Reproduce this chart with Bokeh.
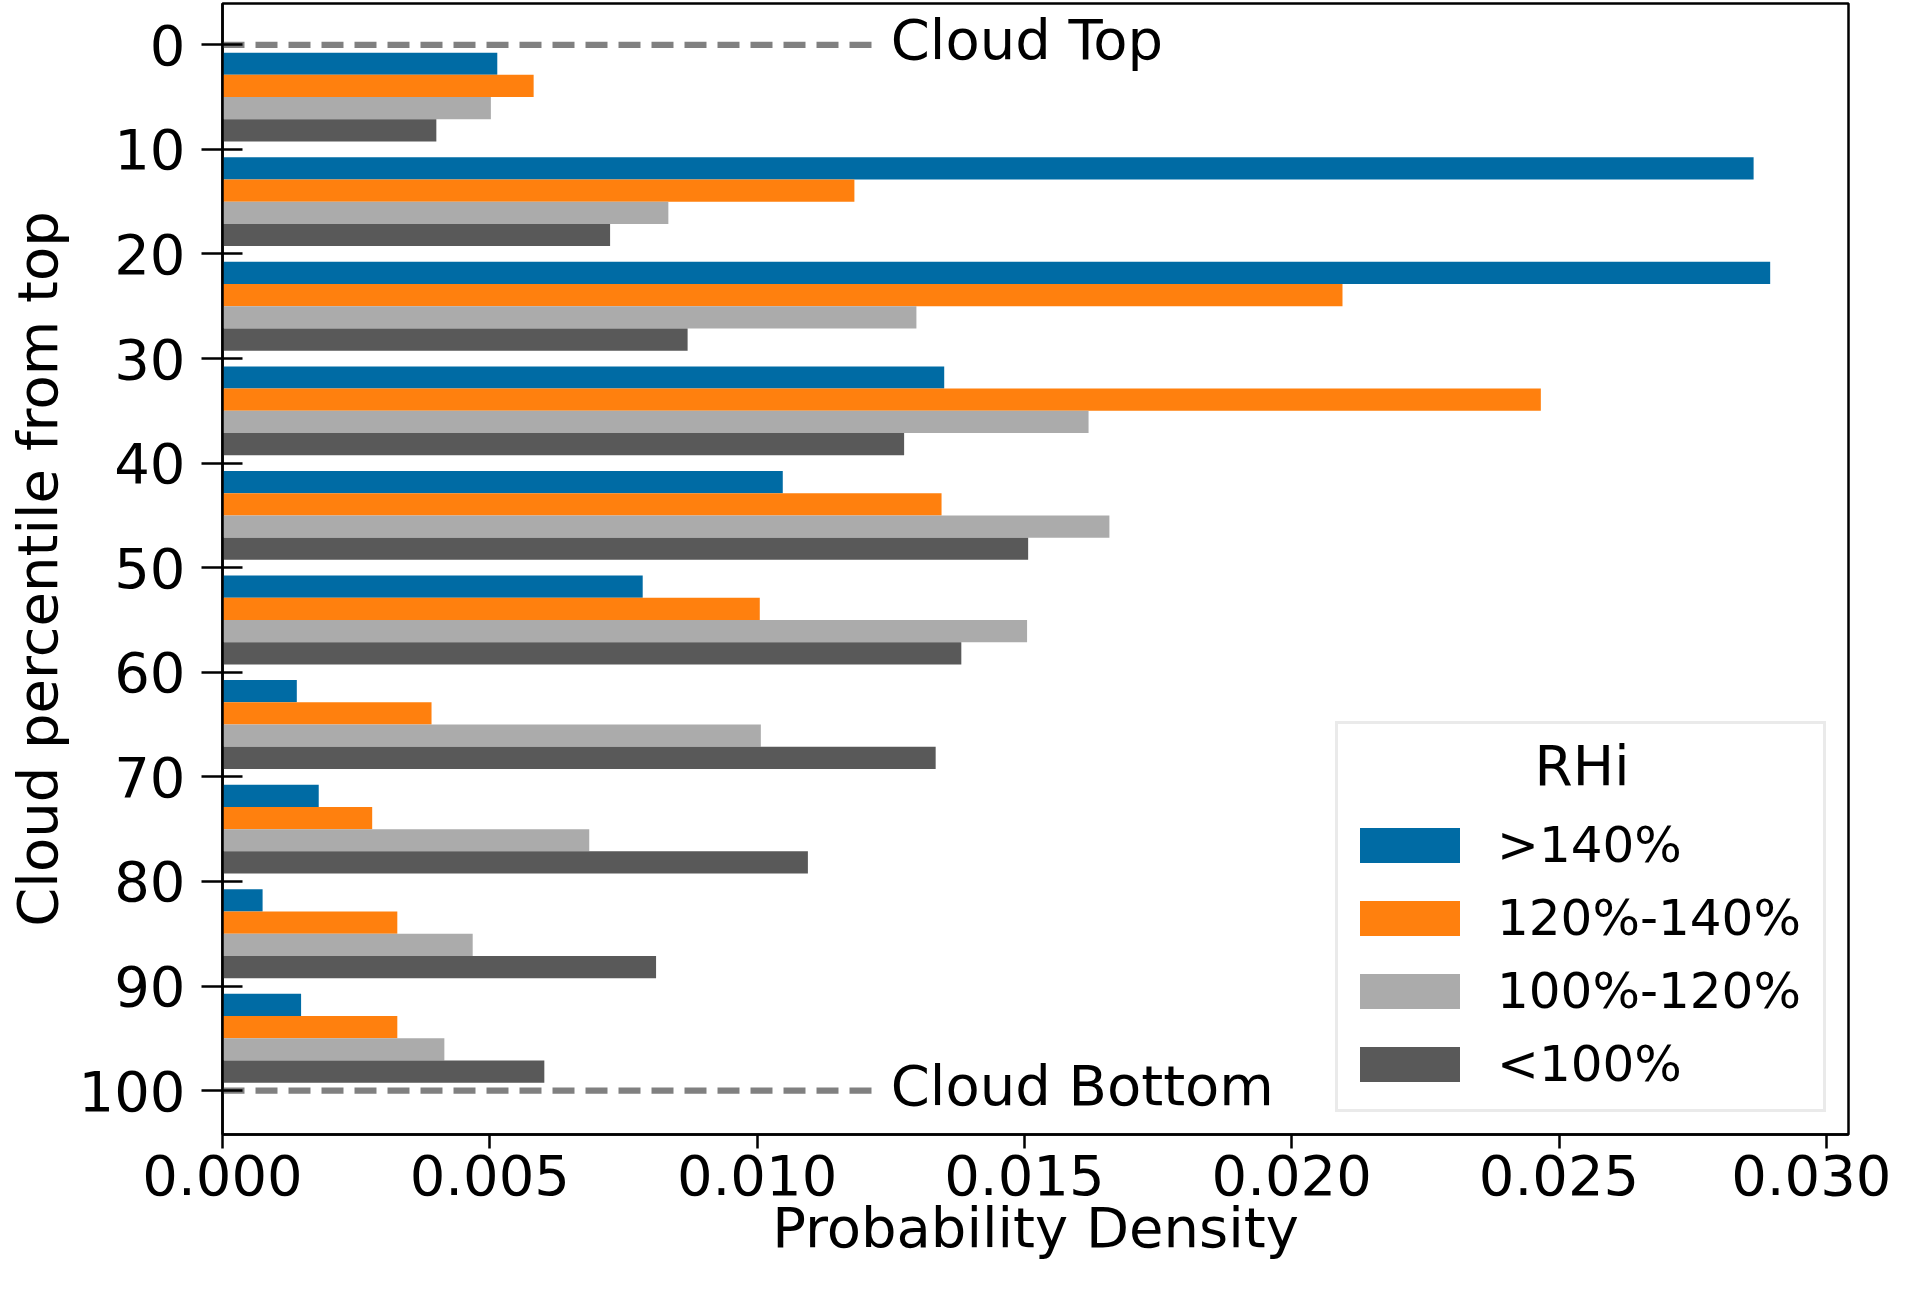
import numpy as np
from bokeh.plotting import figure
from bokeh.models import Range1d, FixedTicker, PrintfTickFormatter, Legend, LegendItem
from bokeh.core.properties import value
from bokeh.embed import file_html
from bokeh.resources import INLINE

# ---- data ----
bin_start = [0, 10, 20, 30, 40, 50, 60, 70, 80, 90]
series_names = [">140%", "120%-140%", "100%-120%", "<100%"]
gt140 = [0.00514, 0.02864, 0.02895, 0.01350, 0.01048, 0.00786, 0.00139, 0.00180, 0.00075, 0.00147]
r120_140 = [0.00582, 0.01182, 0.02095, 0.02466, 0.01345, 0.01005, 0.00391, 0.00280, 0.00327, 0.00327]
r100_120 = [0.00502, 0.00834, 0.01298, 0.01620, 0.01659, 0.01505, 0.01007, 0.00686, 0.00468, 0.00415]
lt100 = [0.00400, 0.00725, 0.00870, 0.01275, 0.01507, 0.01382, 0.01334, 0.01095, 0.00811, 0.00602]
colors = ["#006BA4", "#FF800E", "#ABABAB", "#595959"]
y_ticks = [0, 10, 20, 30, 40, 50, 60, 70, 80, 90, 100]
x_ticks = [0.0, 0.005, 0.010, 0.015, 0.020, 0.025, 0.030]
marker_levels = [0, 100]
marker_texts = ["Cloud Top", "Cloud Bottom"]
marker_line_end = 0.0122
marker_text_x = 0.0125
x_label = "Probability Density"
y_label = "Cloud percentile from top"
legend_title = "RHi"

FONT = "DejaVu Sans"

X0, X1 = 0.0, 0.030415
Y_BOTTOM, Y_TOP = 104.2, -3.95
W, H = 1891, 1278
ML, MR, MT, MB = 222, 43, 3, 144
frame_w = W - ML - MR
frame_h = H - MT - MB
px_x = frame_w / (X1 - X0)          # px per data unit (x)
px_y = frame_h / (Y_BOTTOM - Y_TOP)  # px per data unit (y)

p = figure(width=W, height=H,
           x_range=Range1d(X0, X1), y_range=Range1d(Y_BOTTOM, Y_TOP),
           output_backend="svg", toolbar_location=None,
           min_border_left=ML, min_border_right=MR,
           min_border_top=MT, min_border_bottom=MB)
p.background_fill_color = "white"
p.border_fill_color = "white"
p.outline_line_color = "black"
p.outline_line_width = 2.5
p.xgrid.visible = False
p.ygrid.visible = False

bar_h = 2.125
offsets = [-1.5, -0.5, 0.5, 1.5]
centers = np.array(bin_start) + 5.0
items = []
for vals, col, name, off in zip([gt140, r120_140, r100_120, lt100], colors, series_names, offsets):
    r = p.hbar(y=centers + off * bar_h, right=vals, left=0, height=bar_h,
               fill_color=col, line_color=None)
    items.append(LegendItem(label=name, renderers=[r]))

# dashed markers at top / bottom
p.segment(x0=[0] * 2, y0=marker_levels, x1=[marker_line_end] * 2, y1=marker_levels,
          line_color="#808080", line_width=6.3, line_dash="22 11")
p.text(x=[marker_text_x] * 2, y=marker_levels, text=marker_texts,
       text_font=value(FONT), text_font_size=value("56px"),
       text_align="left", text_baseline="middle", y_offset=-5, text_color="black")

# axes
for ax in (p.xaxis[0], p.yaxis[0]):
    ax.axis_line_width = 2.5
    ax.major_tick_line_width = 2.5
    ax.minor_tick_line_color = None
    ax.major_label_text_font = FONT
    ax.major_label_text_font_size = "56px"
    ax.major_label_text_color = "black"
    ax.axis_label_text_font = FONT
    ax.axis_label_text_font_size = "56px"
    ax.axis_label_text_font_style = "normal"
    ax.axis_label_text_color = "black"

p.xaxis.ticker = FixedTicker(ticks=x_ticks)
p.xaxis.formatter = PrintfTickFormatter(format="%.3f")
p.xaxis.major_tick_in = 0
p.xaxis.major_tick_out = 14
p.xaxis.major_label_standoff = 6
p.xaxis.axis_label = x_label
p.xaxis.axis_label_standoff = -3

p.yaxis.ticker = FixedTicker(ticks=y_ticks)
p.yaxis.major_tick_in = 20
p.yaxis.major_tick_out = 21
p.yaxis.major_label_standoff = 16
p.yaxis.axis_label = y_label
p.yaxis.axis_label_standoff = 6

legend = Legend(items=items, location="bottom_right", margin=22,
                title=" ", title_text_font=FONT, title_text_font_size="55px",
                title_standoff=12,
                label_text_font=FONT, label_text_font_size="50px", label_text_color="black",
                label_standoff=25, label_width=317, label_height=72,
                glyph_width=125, glyph_height=44,
                spacing=1, padding=9,
                border_line_color="#d6d6d6", border_line_width=3,
                background_fill_alpha=0.0)
p.add_layout(legend)

# legend heading, centred over the legend box
legend_cx = X0 + (1581.5 - ML) / px_x
legend_ty = Y_TOP + (765 - MT) / px_y
p.text(x=[legend_cx], y=[legend_ty], text=[legend_title],
       text_font=value(FONT), text_font_size=value("55px"),
       text_align="center", text_baseline="middle", text_color="black")

open("out.html", "w").write(file_html(p, INLINE))
